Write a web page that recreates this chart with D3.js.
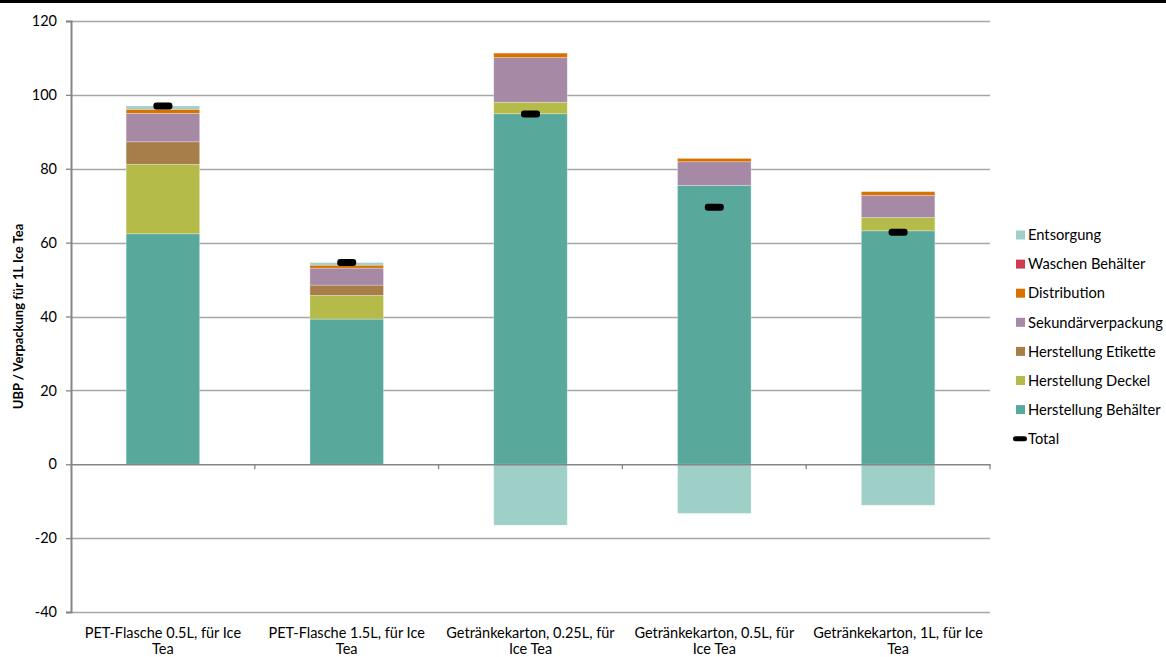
<!DOCTYPE html>
<html>
<head>
<meta charset="utf-8">
<script src="https://cdn.jsdelivr.net/npm/d3@7"></script>
<style>
  html, body { margin: 0; padding: 0; background: #fff; }
  svg { display: block; }
  text { font-family: Lato, "Open Sans", sans-serif; fill: #000; }
</style>
</head>
<body>
<svg id="chart" width="1166" height="657"></svg>
<script>
// ---- data ----
const categories = [
  "PET-Flasche 0.5L, für Ice Tea",
  "PET-Flasche 1.5L, für Ice Tea",
  "Getränkekarton, 0.25L, für Ice Tea",
  "Getränkekarton, 0.5L, für Ice Tea",
  "Getränkekarton, 1L, für Ice Tea"
];
const categoryLine1 = ["PET-Flasche 0.5L, für Ice", "PET-Flasche 1.5L, für Ice", "Getränkekarton, 0.25L, für", "Getränkekarton, 0.5L, für", "Getränkekarton, 1L, für Ice"];
const categoryLine2 = ["Tea", "Tea", "Ice Tea", "Ice Tea", "Tea"];

const seriesNames = ["Herstellung Behälter", "Herstellung Deckel", "Herstellung Etikette", "Sekundärverpackung", "Distribution", "Waschen Behälter", "Entsorgung"];
const herstellungBehaelter = [62.4, 39.3, 94.9, 75.5, 63.2];
const herstellungDeckel    = [18.8, 6.4, 3.1, 0.0, 3.6];
const herstellungEtikette  = [6.1, 2.8, 0.0, 0.0, 0.0];
const sekundaerverpackung  = [7.7, 4.6, 12.1, 6.4, 6.0];
const distribution         = [1.1, 0.8, 1.2, 0.9, 1.0];
const waschenBehaelter     = [0.0, 0.0, 0.0, 0.0, 0.0];
const entsorgung           = [0.9, 0.7, -16.5, -13.3, -11.1];
const total                = [97.0, 54.6, 94.8, 69.6, 62.8];

const yTicks = [-40, -20, 0, 20, 40, 60, 80, 100, 120];
const yLabel = "UBP / Verpackung für 1L Ice Tea";
const legendOrder = ["Entsorgung", "Waschen Behälter", "Distribution", "Sekundärverpackung", "Herstellung Etikette", "Herstellung Deckel", "Herstellung Behälter"];
const colors = {
  "Herstellung Behälter": "#58a89c",
  "Herstellung Deckel": "#b4bb48",
  "Herstellung Etikette": "#a77e4a",
  "Sekundärverpackung": "#a589a5",
  "Distribution": "#d87100",
  "Waschen Behälter": "#cf3a4f",
  "Entsorgung": "#9ed0c8"
};

// ---- build table ----
const seriesValues = [herstellungBehaelter, herstellungDeckel, herstellungEtikette, sekundaerverpackung, distribution, waschenBehaelter, entsorgung];
const table = categories.map((c, i) => {
  const row = { category: c };
  seriesNames.forEach((s, j) => row[s] = seriesValues[j][i]);
  row.total = total[i];
  return row;
});

const svg = d3.select("#chart");
const plot = { left: 71, right: 990, top: 21, bottom: 612 };

const x = d3.scaleBand().domain(categories).range([plot.left, plot.right]).padding(0);
const y = d3.scaleLinear().domain([-40, 120]).range([plot.bottom, plot.top]);
const barW = x.bandwidth() * 0.4;

// top border line
svg.append("line").attr("x1", 0).attr("x2", 1166).attr("y1", 1.5).attr("y2", 1.5)
  .attr("stroke", "#000").attr("stroke-width", 3);

// gridlines
svg.append("g").selectAll("line").data(yTicks.filter(t => t !== 0)).join("line")
  .attr("x1", plot.left).attr("x2", plot.right)
  .attr("y1", d => Math.round(y(d)) + 0.5).attr("y2", d => Math.round(y(d)) + 0.5)
  .attr("stroke", "#a6a6a6").attr("stroke-width", 1.3);

// y axis
const yAxis = d3.axisLeft(y).tickValues(yTicks).tickSize(5).tickPadding(9).tickFormat(d => String(d));
const gy = svg.append("g").attr("transform", `translate(${plot.left},0)`).call(yAxis);
gy.select(".domain").attr("stroke", "#868686").attr("stroke-width", 2);
gy.selectAll(".tick line").attr("stroke", "#868686").attr("stroke-width", 1.3);
gy.selectAll(".tick text").style("font-size", "14.5px").style("fill", "#000");

// stacked bars
const stack = d3.stack().keys(seriesNames).offset(d3.stackOffsetDiverging);
const stacked = stack(table);

svg.append("g").selectAll("g").data(stacked).join("g")
  .attr("fill", d => colors[d.key])
  .selectAll("rect").data(d => d).join("rect")
  .attr("x", d => x(d.data.category) + (x.bandwidth() - barW) / 2)
  .attr("width", barW)
  .attr("y", d => y(Math.max(d[0], d[1])))
  .attr("height", d => Math.abs(y(d[0]) - y(d[1])))
  .attr("stroke", "rgba(255,255,255,0.35)").attr("stroke-width", 0.8);

// x axis (zero line)
const xAxis = d3.axisBottom(x).tickSize(0).tickFormat("");
const gx = svg.append("g").attr("transform", `translate(0,${y(0)})`).call(xAxis);
gx.select(".domain").attr("stroke", "#868686").attr("stroke-width", 1.5);
// category boundary tick marks
svg.append("g").selectAll("line").data(categories).join("line")
  .attr("x1", d => x(d) + x.bandwidth()).attr("x2", d => x(d) + x.bandwidth())
  .attr("y1", y(0)).attr("y2", y(0) + 5)
  .attr("stroke", "#868686").attr("stroke-width", 1.3);

// category labels
const lab = svg.append("g").selectAll("text").data(categories).join("text")
  .attr("x", d => x(d) + x.bandwidth() / 2)
  .attr("text-anchor", "middle").style("font-size", "14.5px");
lab.append("tspan").attr("x", d => x(d) + x.bandwidth() / 2).attr("y", 638).text((d, i) => categoryLine1[i]);
lab.append("tspan").attr("x", d => x(d) + x.bandwidth() / 2).attr("y", 654).text((d, i) => categoryLine2[i]);

// total markers
svg.append("g").selectAll("rect").data(table).join("rect")
  .attr("x", d => x(d.category) + x.bandwidth() / 2 - 9.5)
  .attr("y", d => y(d.total) - 3.5)
  .attr("width", 19).attr("height", 7).attr("rx", 3)
  .attr("fill", "#000");

// y label
svg.append("text")
  .attr("transform", `translate(23,${(plot.top + plot.bottom) / 2}) rotate(-90)`)
  .attr("text-anchor", "middle").style("font-size", "13px").style("font-weight", "bold")
  .text(yLabel);

// legend
const lg = svg.append("g");
const items = legendOrder.map(n => ({ name: n, type: "rect" })).concat([{ name: "Total", type: "line" }]);
const li = lg.selectAll("g").data(items).join("g")
  .attr("transform", (d, i) => `translate(1016,${235 + i * 29.1})`);
li.filter(d => d.type === "rect").append("rect")
  .attr("x", 0).attr("y", -4.5).attr("width", 9).attr("height", 9)
  .attr("fill", d => colors[d.name]);
li.filter(d => d.type === "line").append("rect")
  .attr("x", -3).attr("y", -2.5).attr("width", 14).attr("height", 5).attr("rx", 2.5)
  .attr("fill", "#000");
li.append("text").attr("x", 12).attr("y", 0).attr("dy", "0.36em")
  .style("font-size", "14.7px").text(d => d.name);
</script>
</body>
</html>
